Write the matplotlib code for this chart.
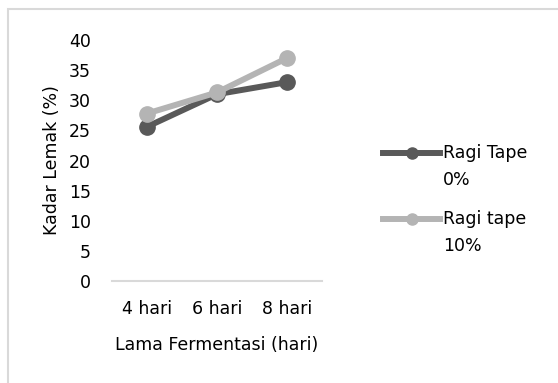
import matplotlib.pyplot as plt
from matplotlib.lines import Line2D
from matplotlib.patches import Rectangle

plt.rcParams['font.family'] = 'DejaVu Sans'

hari = ['4 hari', '6 hari', '8 hari']
ragi_0 = [25.6, 31.0, 33.0]
ragi_10 = [27.8, 31.3, 37.0]
label_0 = 'Ragi Tape\n0%'
label_10 = 'Ragi tape\n10%'

W, H = 558, 383
fs = 12.5
fig = plt.figure(figsize=(W / 100, H / 100), dpi=100)

# thin grey frame around the chart area
fig.patches.append(Rectangle((8 / W, -0.1), 1.1, 1 - 9 / H + 0.1, transform=fig.transFigure,
                             fill=False, edgecolor='#d9d9d9', linewidth=1.5))

ax = fig.add_axes([112 / W, 1 - 281 / H, (322 - 112) / W, (281 - 40) / H])
x = range(len(hari))
series = [(ragi_0, '#595959', label_0), (ragi_10, '#b4b4b4', label_10)]
for i, (vals, col, lab) in enumerate(series):
    ax.plot(x, vals, color=col, lw=4.3, marker='o', ms=11, zorder=3 + i)

ax.set_xlim(-0.5, 2.5)
ax.set_ylim(0, 40)
ax.set_yticks(range(0, 41, 5))
ax.set_xticks(list(x))
ax.set_xticklabels(hari)
ax.tick_params(length=0, labelsize=fs)
ax.tick_params(axis='y', pad=15)
ax.tick_params(axis='x', pad=14)
for s in ['top', 'right', 'left']:
    ax.spines[s].set_visible(False)
ax.spines['bottom'].set_color('#d9d9d9')
ax.spines['bottom'].set_linewidth(1.5)

ax.set_xlabel('Lama Fermentasi (hari)', fontsize=fs, labelpad=13)
ax.set_ylabel('Kadar Lemak (%)', fontsize=fs, labelpad=6)

# legend by hand: handle sits on the first line of the wrapped label
for i, (vals, col, lab) in enumerate(series):
    y = 1 - (153 + 66 * i) / H
    fig.add_artist(Line2D([383 / W, 440 / W], [y, y], color=col, lw=4.3,
                          transform=fig.transFigure))
    fig.add_artist(Line2D([411.5 / W], [y], color=col, marker='o', ms=8,
                          transform=fig.transFigure))
    for j, line in enumerate(lab.split('\n')):
        fig.text(443 / W, y - 27 * j / H, line, fontsize=fs, va='center', ha='left')

fig.savefig('out.png', dpi=100)
